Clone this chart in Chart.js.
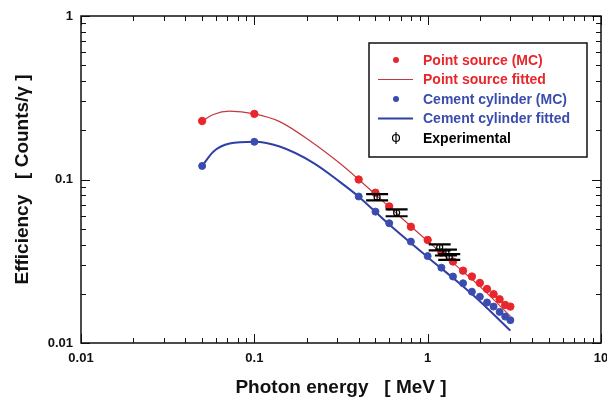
<!DOCTYPE html>
<html>
<head>
<meta charset="utf-8">
<script src="https://cdn.jsdelivr.net/npm/chart.js@4"></script>
<style>
  body { margin: 0; background: #fff; }
  #wrap { width: 607px; height: 407px; position: relative; }
</style>
</head>
<body>
<div id="wrap"><canvas id="myChart"></canvas></div>
<script>
// photon energy (MeV) for the MC points
const energyMC = [0.05, 0.1, 0.4, 0.5, 0.6, 0.8, 1.0, 1.2, 1.4, 1.6, 1.8, 2.0, 2.2, 2.4, 2.6, 2.8, 3.0]
const pointMC  = [0.228, 0.252, 0.100, 0.083, 0.0684, 0.0514, 0.0427, 0.0357, 0.0315, 0.0277, 0.0255, 0.0233, 0.0214, 0.0199, 0.0185, 0.0171, 0.0167]
const cementMC = [0.121, 0.170, 0.0787, 0.0636, 0.054, 0.0417, 0.034, 0.0289, 0.0255, 0.0232, 0.0206, 0.0192, 0.0177, 0.0167, 0.0155, 0.0145, 0.0138]

// fitted curves
const energyFit = [0.05, 0.058, 0.072, 0.1, 0.14, 0.22, 0.31, 0.4, 0.6, 1.0, 1.5, 2.0, 3.0]
const pointFit  = [0.228, 0.250, 0.262, 0.252, 0.226, 0.166, 0.126, 0.100, 0.068, 0.042, 0.029, 0.0222, 0.0146]
const cementFit = [0.121, 0.148, 0.166, 0.170, 0.159, 0.126, 0.097, 0.0785, 0.053, 0.0335, 0.0235, 0.0180, 0.0119]

// experimental
const expEnergy = [0.511, 0.662, 1.173, 1.275, 1.332]
const expEff    = [0.078, 0.0626, 0.0385, 0.0358, 0.0336]
const expErr    = [0.0035, 0.003, 0.0016, 0.0015, 0.0014]

const xTicks = [0.01, 0.1, 1, 10]
const yTicks = [0.01, 0.1, 1]

const RED = '#e8262b'
const REDLINE = '#c23a3e'
const BLUE = '#3a4cad'
const BLUELINE = '#2f3fa6'

const ctx = document.getElementById('myChart')

function xy(xs, ys){
  return xs.map((x, i) => ({x: x, y: ys[i]}))
}
function isDecade(v){
  const l = Math.log10(v)
  return Math.abs(l - Math.round(l)) < 1e-6
}

// box round plot + inward ticks on all sides
const frame = {
  id: 'frame',
  afterDatasetsDraw(chart){
    const c = chart.ctx, a = chart.chartArea
    const sx = chart.scales.x, sy = chart.scales.y
    c.save()
    c.strokeStyle = '#111'
    c.lineWidth = 1
    function line(x1, y1, x2, y2){ c.beginPath(); c.moveTo(x1, y1); c.lineTo(x2, y2); c.stroke() }
    for (let e = -2; e <= 1; e++){
      for (let k = 1; k <= 9; k++){
        const v = k * Math.pow(10, e)
        if (v >= sx.min * 0.999 && v <= sx.max * 1.001){
          const px = Math.round(sx.getPixelForValue(v)) + 0.5
          const len = k == 1 ? 9 : 5
          line(px, a.bottom, px, a.bottom - len)
          line(px, a.top, px, a.top + len)
        }
        if (v >= sy.min * 0.999 && v <= sy.max * 1.001){
          const py = Math.round(sy.getPixelForValue(v)) + 0.5
          const len = k == 1 ? 9 : 5
          line(a.left, py, a.left + len, py)
          line(a.right, py, a.right - len, py)
        }
      }
    }
    c.lineWidth = 1.5
    c.strokeRect(a.left, a.top, a.right - a.left, a.bottom - a.top)
    c.restore()
  }
}

// vertical error bars for the experimental points
const errBars = {
  id: 'errBars',
  afterDatasetsDraw(chart){
    const c = chart.ctx, sx = chart.scales.x, sy = chart.scales.y
    c.save()
    c.strokeStyle = '#000'
    for (let i = 0; i < expEnergy.length; i++){
      const px = sx.getPixelForValue(expEnergy[i])
      const lo = sy.getPixelForValue(expEff[i] - expErr[i])
      const hi = sy.getPixelForValue(expEff[i] + expErr[i])
      c.lineWidth = 1.2
      c.beginPath(); c.moveTo(px, lo); c.lineTo(px, hi); c.stroke()
      c.lineWidth = 2.2
      c.beginPath()
      c.moveTo(px - 11, lo); c.lineTo(px + 11, lo)
      c.moveTo(px - 11, hi); c.lineTo(px + 11, hi)
      c.stroke()
      c.lineWidth = 1.2
      c.beginPath(); c.arc(px, sy.getPixelForValue(expEff[i]), 3, 0, Math.PI * 2); c.stroke()
    }
    c.restore()
  }
}

// legend box inside the plot
const boxLegend = {
  id: 'boxLegend',
  afterDraw(chart){
    const c = chart.ctx
    const x0 = 369, y0 = 43, w = 218, h = 114
    c.save()
    c.fillStyle = '#fff'
    c.fillRect(x0, y0, w, h)
    c.strokeStyle = '#111'
    c.lineWidth = 1.5
    c.strokeRect(x0, y0, w, h)
    c.font = 'bold 14px "Liberation Sans", Arial, sans-serif'
    c.textBaseline = 'middle'
    const rows = [60, 79.5, 99, 118.5, 138]
    chart.data.datasets.forEach((ds, i) => {
      const y = rows[i]
      if (ds.showLine === false && i < 4){
        c.fillStyle = ds.backgroundColor
        c.beginPath(); c.arc(396, y, 3, 0, Math.PI * 2); c.fill()
      } else if (i < 4){
        c.strokeStyle = ds.borderColor
        c.lineWidth = ds.borderWidth
        c.beginPath(); c.moveTo(378, y); c.lineTo(413, y); c.stroke()
      } else {
        c.strokeStyle = '#000'
        c.lineWidth = 1.2
        c.beginPath(); c.arc(396, y, 3.5, 0, Math.PI * 2); c.stroke()
        c.beginPath(); c.moveTo(396, y - 6); c.lineTo(396, y + 6); c.stroke()
      }
      c.fillStyle = ds.textColor
      c.fillText(ds.label, 423, y + 1)
    })
    c.restore()
  }
}

new Chart(ctx, {
  type: 'scatter',
  data: {
    datasets: [
      {
        label: 'Point source (MC)',
        data: xy(energyMC, pointMC),
        showLine: false,
        backgroundColor: RED, borderColor: RED,
        pointRadius: 3.7, textColor: RED, order: 1
      },
      {
        label: 'Point source fitted',
        data: xy(energyFit, pointFit),
        showLine: true, pointRadius: 0,
        borderColor: REDLINE, borderWidth: 1.2,
        cubicInterpolationMode: 'monotone', textColor: RED, order: 2
      },
      {
        label: 'Cement cylinder (MC)',
        data: xy(energyMC, cementMC),
        showLine: false,
        backgroundColor: BLUE, borderColor: BLUE,
        pointRadius: 3.5, textColor: BLUE, order: 1
      },
      {
        label: 'Cement cylinder fitted',
        data: xy(energyFit, cementFit),
        showLine: true, pointRadius: 0,
        borderColor: BLUELINE, borderWidth: 2,
        cubicInterpolationMode: 'monotone', textColor: BLUE, order: 2
      },
      {
        label: 'Experimental',
        data: xy(expEnergy, expEff),
        showLine: false, pointRadius: 0,
        borderColor: '#000', textColor: '#000', order: 0
      }
    ]
  },
  options: {
    responsive: true,
    maintainAspectRatio: false,
    animation: false,
    layout: { padding: { top: 16, right: 6, left: 0, bottom: 0 } },
    plugins: { legend: { display: false }, tooltip: { enabled: false } },
    scales: {
      x: {
        type: 'logarithmic', min: 0.01, max: 10,
        afterFit: s => { s.height = 64; s.paddingRight = 0; s.paddingLeft = 0 },
        afterBuildTicks: s => { s.ticks = xTicks.map(v => ({value: v})) },
        grid: { display: false, drawTicks: false },
        border: { display: false },
        ticks: {
          autoSkip: false, maxRotation: 0, padding: 8, color: '#111',
          font: { family: '"Liberation Sans", Arial, sans-serif', size: 13, weight: 'bold' },
          callback: v => isDecade(v) ? String(v) : ''
        },
        title: {
          display: true, text: 'Photon energy   [ MeV ]', color: '#111',
          font: { family: '"Liberation Sans", Arial, sans-serif', size: 19, weight: 'bold' },
          padding: { top: 0, bottom: 8 }
        }
      },
      y: {
        type: 'logarithmic', min: 0.01, max: 1,
        afterFit: s => { s.width = 81 },
        afterBuildTicks: s => { s.ticks = yTicks.map(v => ({value: v})) },
        grid: { display: false, drawTicks: false },
        border: { display: false },
        ticks: {
          autoSkip: false, padding: 8, color: '#111',
          font: { family: '"Liberation Sans", Arial, sans-serif', size: 13, weight: 'bold' },
          callback: v => isDecade(v) ? String(v) : ''
        },
        title: {
          display: true, text: 'Efficiency   [ Counts/γ ]', color: '#111',
          font: { family: '"Liberation Sans", Arial, sans-serif', size: 19, weight: 'bold' },
          padding: { top: 11, bottom: 0 }
        }
      }
    }
  },
  plugins: [frame, errBars, boxLegend]
})
</script>
</body>
</html>
